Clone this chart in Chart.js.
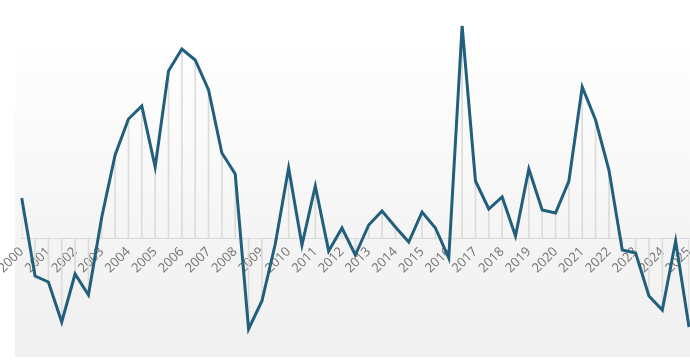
<!DOCTYPE html>
<html>
<head>
<meta charset="utf-8">
<script src="https://cdn.jsdelivr.net/npm/chart.js@4"></script>
<style>
  html, body { margin: 0; padding: 0; background: #ffffff; }
  #wrap { width: 690px; height: 364px; }
</style>
</head>
<body>
<div id="wrap"><canvas id="myChart"></canvas></div>
<script>
// half-year periods, one year label per H1
const periods = [
    '2000 H1', '2000 H2', '2001 H1', '2001 H2', '2002 H1', '2002 H2', '2003 H1', '2003 H2',
    '2004 H1', '2004 H2', '2005 H1', '2005 H2', '2006 H1', '2006 H2', '2007 H1', '2007 H2',
    '2008 H1', '2008 H2', '2009 H1', '2009 H2', '2010 H1', '2010 H2', '2011 H1', '2011 H2',
    '2012 H1', '2012 H2', '2013 H1', '2013 H2', '2014 H1', '2014 H2', '2015 H1', '2015 H2',
    '2016 H1', '2016 H2', '2017 H1', '2017 H2', '2018 H1', '2018 H2', '2019 H1', '2019 H2',
    '2020 H1', '2020 H2', '2021 H1', '2021 H2', '2022 H1', '2022 H2', '2023 H1', '2023 H2',
    '2024 H1', '2024 H2', '2025 H1'
];

const values = [
    2.0, -1.9, -2.2, -4.2, -1.8, -2.85, 1.05, 4.15,
    5.95, 6.6, 3.55, 8.35, 9.45, 8.9, 7.4, 4.25,
    3.2, -4.55, -3.15, -0.3, 3.5, -0.35, 2.6, -0.65,
    0.5, -0.85, 0.65, 1.35, 0.55, -0.2, 1.3, 0.5,
    -1.0, 10.6, 2.85, 1.45, 2.05, 0.1, 3.45, 1.4,
    1.25, 2.85, 7.55, 5.9, 3.4, -0.6, -0.75, -2.9,
    -3.6, -0.15, -4.45
];

// soft grey panel behind the plot
const panelBackground = {
    id: 'panelBackground',
    beforeDraw(chart) {
        const c = chart.ctx;
        c.save();
        c.fillStyle = '#ffffff';
        c.fillRect(0, 0, chart.width, chart.height);
        const g = c.createLinearGradient(0, 47, 0, 357);
        g.addColorStop(0, '#fefefe');
        g.addColorStop(0.35, '#f9f9f9');
        g.addColorStop(0.62, '#f4f4f4');
        g.addColorStop(1, '#f0f0f0');
        c.fillStyle = g;
        c.fillRect(15, 47, chart.width - 15, 310);
        c.restore();
    }
};

const ctx = document.getElementById('myChart').getContext('2d');
let myChart = new Chart(ctx, {
    data: {
        labels: periods,
        datasets: [{
            type: 'line',
            data: values,
            borderColor: '#215f7c',
            borderWidth: 3,
            pointRadius: 0,
            tension: 0,
            fill: false,
            order: 1
        }, {
            type: 'bar',
            data: values,
            backgroundColor: '#dcdcdc',
            barThickness: 1,
            order: 2
        }]
    },
    options: {
        responsive: true,
        maintainAspectRatio: false,
        animation: false,
        layout: { padding: { left: 21.7, right: 1, top: 0, bottom: 0 } },
        plugins: {
            legend: { display: false },
            tooltip: { enabled: false }
        },
        scales: {
            x: {
                type: 'category',
                position: { y: 0 },
                offset: false,
                grid: { display: false, drawTicks: false },
                border: { display: true, color: '#dadada', width: 1 },
                ticks: {
                    autoSkip: false,
                    minRotation: 45,
                    maxRotation: 45,
                    padding: 6,
                    color: '#727272',
                    font: { family: 'Open Sans', size: 13 },
                    callback: (v, i) => periods[i].endsWith('H1') ? periods[i].slice(0, 4) : ''
                },
                afterFit: s => { s.paddingLeft = 0; s.paddingRight = 0; }
            },
            y: {
                display: false,
                min: -6.3,
                max: 11.9
            }
        }
    },
    plugins: [panelBackground]
});
</script>
</body>
</html>
